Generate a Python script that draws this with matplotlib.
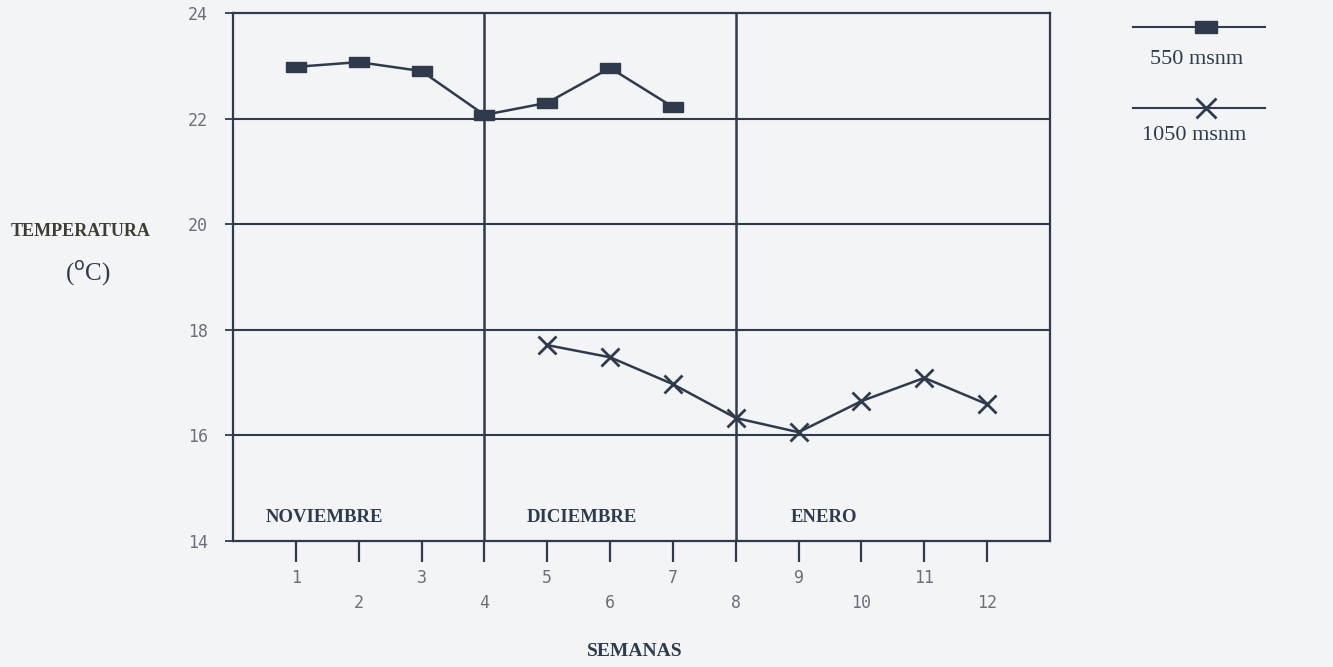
import matplotlib
matplotlib.use("Agg")
import matplotlib.pyplot as plt
from matplotlib.lines import Line2D

weeks_550 = [1, 2, 3, 4, 5, 6, 7]
temp_550 = [22.98, 23.07, 22.90, 22.07, 22.30, 22.96, 22.22]
weeks_1050 = [5, 6, 7, 8, 9, 10, 11, 12]
temp_1050 = [17.71, 17.48, 16.97, 16.33, 16.06, 16.65, 17.09, 16.59]
week_ticks = list(range(1, 13))
y_ticks = [14, 16, 18, 20, 22, 24]
months = ["NOVIEMBRE", "DICIEMBRE", "ENERO"]
month_x = [1.45, 5.55, 9.4]
month_bounds = [4, 8]

ink = "#2f3a4c"
grey = "#6a6f78"
bg = "#f3f4f6"

fig = plt.figure(figsize=(13.33, 6.67), dpi=100, facecolor=bg)
ax = fig.add_axes([0.1748, 0.1889, 0.6129, 0.7916], facecolor=bg)

ax.set_xlim(0, 13)
ax.set_ylim(14, 24)

for y in [16, 18, 20, 22]:
    ax.axhline(y, color=ink, lw=1.5, zorder=1)
for xb in month_bounds:
    ax.axvline(xb, color=ink, lw=1.8, zorder=1)

rect = [(-1, -0.5), (1, -0.5), (1, 0.5), (-1, 0.5), (-1, -0.5)]
ax.plot(weeks_550, temp_550, color=ink, lw=1.8, marker=rect, ms=15,
        mfc=ink, mec=ink, zorder=3)
ax.plot(weeks_1050, temp_1050, color=ink, lw=1.8, marker="x", ms=13,
        mew=2.0, zorder=3)

for sp in ax.spines.values():
    sp.set_color(ink)
    sp.set_linewidth(1.6)

odd = [w for w in week_ticks if w % 2 == 1]
even = [w for w in week_ticks if w % 2 == 0]
ax.set_xticks(odd)
ax.set_xticklabels([str(w) for w in odd])
ax.set_xticks(even, minor=True)
ax.set_xticklabels([str(w) for w in even], minor=True)
ax.tick_params(axis="x", which="major", direction="out", length=15, width=1.6,
               color=ink, pad=5, labelsize=12, labelcolor=grey)
ax.tick_params(axis="x", which="minor", direction="out", length=15, width=1.6,
               color=ink, pad=23, labelsize=12, labelcolor=grey)
ax.set_yticks(y_ticks)
ax.set_yticklabels([str(v) for v in y_ticks])
ax.tick_params(axis="y", direction="out", length=6, width=1.3, color=ink,
               pad=12, labelsize=12, labelcolor=grey)
for lbl in ax.get_xticklabels(which="both") + ax.get_yticklabels():
    lbl.set_family("DejaVu Sans Mono")

for m, mx in zip(months, month_x):
    ax.text(mx, 14.45, m, ha="center", va="center", fontsize=13.5,
            family="Liberation Serif", weight="bold", color=ink)

fig.text(81 / 1333, 1 - 231 / 667, "TEMPERATURA", ha="center", va="center",
         fontsize=13, family="Liberation Serif", weight="bold", color="#3d3d33")
fig.text(88 / 1333, 1 - 274 / 667, "($^{\\mathrm{o}}$C)", ha="center", va="center",
         fontsize=18, family="Liberation Serif", color=ink)
fig.text(635 / 1333, 1 - 651 / 667, "SEMANAS", ha="center", va="center",
         fontsize=14, family="Liberation Serif", weight="bold", color=ink)

# legend
lx0, lx1 = 1133 / 1333, 1265 / 1333
fig.add_artist(Line2D([lx0, lx1], [1 - 27 / 667] * 2, color=ink, lw=1.5))
fig.add_artist(Line2D([1206 / 1333], [1 - 27 / 667], marker=rect, ms=16,
                      mfc=ink, mec=ink, lw=0))
fig.text(1197 / 1333, 1 - 60 / 667, "550 msnm", ha="center", va="center",
         fontsize=16, family="Liberation Serif", color=ink)
fig.add_artist(Line2D([lx0, lx1], [1 - 108 / 667] * 2, color=ink, lw=1.5))
fig.add_artist(Line2D([1206 / 1333], [1 - 108 / 667], marker="x", ms=14,
                      mew=2.0, color=ink, lw=0))
fig.text(1194 / 1333, 1 - 136 / 667, "1050 msnm", ha="center", va="center",
         fontsize=16, family="Liberation Serif", color=ink)

fig.savefig("out.png", dpi=100, facecolor=bg)
